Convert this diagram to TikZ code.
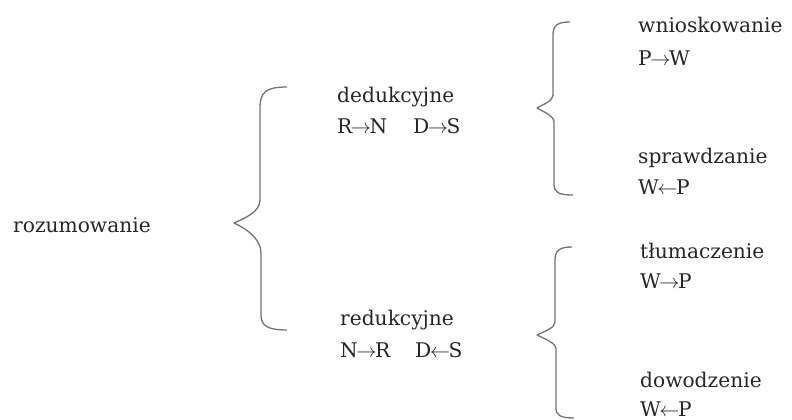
\documentclass[tikz,border=0pt]{standalone}
\usepackage{fix-cm}
\usepackage{fontspec}
\setmainfont{DejaVu Serif}
\newcommand{\ra}{\kern-1.5pt$\rightarrow$\kern-1.5pt}
\newcommand{\la}{\kern-1.5pt$\leftarrow$\kern-1.5pt}
\begin{document}
\begin{tikzpicture}[x=1pt,y=-1pt,
  lbl/.style={anchor=base west, inner sep=0pt, text=black!85,
    font=\fontsize{20.2}{30}\selectfont},
  brace/.style={draw=black!55, line width=1.3pt, line join=round}]
\useasboundingbox (0,0) rectangle (792,420);
% labels
\node[lbl] (roz) at (13,232) {rozumowanie};
\node[lbl] (ded) at (337,102) {dedukcyjne};
\node[lbl] (dedf) at (337,133) {\makebox[76pt][l]{R\ra N}D\ra S};
\node[lbl] (red) at (340,325) {redukcyjne};
\node[lbl] (redf) at (340,357) {\makebox[75pt][l]{N\ra R}D\la S};
\node[lbl] (wni) at (638,33) {wnioskowanie};
\node[lbl] (wnif) at (638,66) {P\ra W};
\node[lbl] (spr) at (638,163) {sprawdzanie};
\node[lbl] (sprf) at (638,194) {W\la P};
\node[lbl] (tlu) at (640,258) {tłumaczenie};
\node[lbl] (tluf) at (640,288) {W\ra P};
\node[lbl] (dow) at (640,387) {dowodzenie};
\node[lbl] (dowf) at (640,416) {W\la P};
% big brace
\draw[brace] (287,87) .. controls (266,87) and (260,92) .. (260,108)
  -- (260,200) .. controls (260,212) and (245,218) .. (234,223)
  .. controls (245,228) and (261,238) .. (261,253)
  -- (261,315) .. controls (261,326) and (268,330) .. (287,330);
% upper right brace
\draw[brace] (570,22) .. controls (558,22) and (553,25) .. (553,35)
  -- (553,95) .. controls (553,101) and (544,104) .. (537,108)
  .. controls (544,112) and (554,116) .. (554,122)
  -- (554,184) .. controls (554,192) and (558,195) .. (573,195);
% lower right brace
\draw[brace] (572,247) .. controls (560,247) and (555,250) .. (555,260)
  -- (555,322) .. controls (555,328) and (545,331) .. (537,335)
  .. controls (545,339) and (556,343) .. (556,349)
  -- (556,408) .. controls (556,415) and (560,418) .. (574,418);
\end{tikzpicture}
\end{document}
